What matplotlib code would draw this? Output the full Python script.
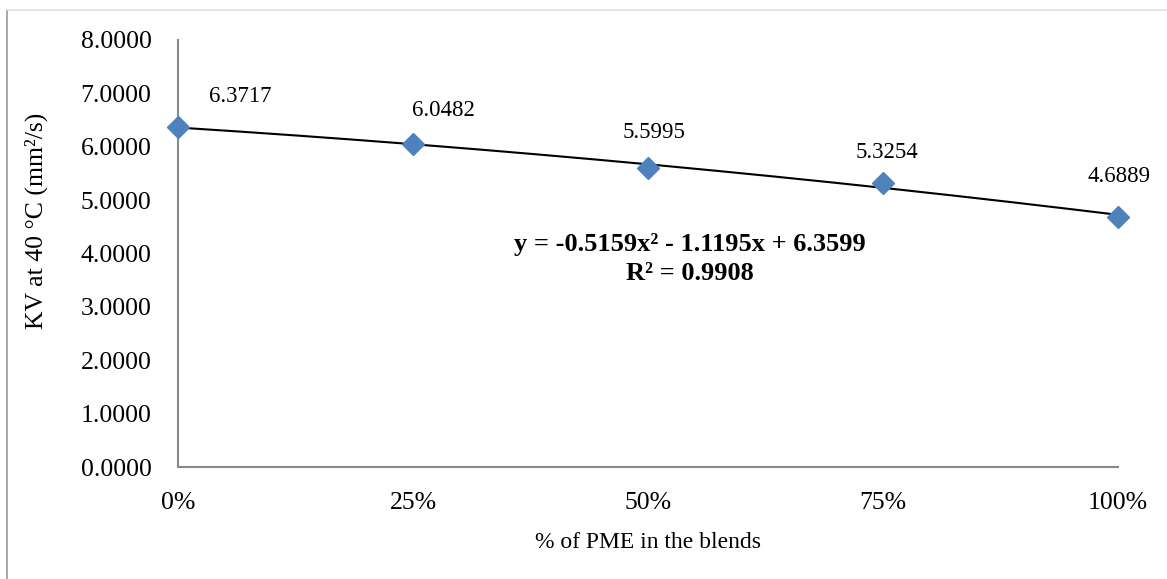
import matplotlib.pyplot as plt
import numpy as np
from matplotlib.lines import Line2D

plt.rcParams['font.family'] = ['Liberation Serif', 'DejaVu Serif']

# Anteil PME in der Mischung und gemessene kinematische Viskosität
blend_share = [0.0, 0.25, 0.5, 0.75, 1.0]
blend_labels = ['0%', '25%', '50%', '75%', '100%']
kv_40 = [6.3717, 6.0482, 5.5995, 5.3254, 4.6889]

# Polynom 2. Grades (Trendlinie)
trend_coef = [-0.5159, -1.1195, 6.3599]
r_squared = 0.9908

# Verschiebung der Wertebeschriftungen (in Punkt)
label_offsets = [(45, 22), (22, 24), (4, 26), (3, 22), (1, 29)]

W, H = 1167, 579
fig = plt.figure(figsize=(W / 100, H / 100), dpi=100)
ax = fig.add_axes([178 / W, (H - 467) / H, 940 / W, 427 / H])

xs = np.linspace(0, 1, 300)
ax.plot(xs, np.polyval(trend_coef, xs), color='black', lw=1.5, zorder=2)
ax.plot(blend_share, kv_40, linestyle='none', marker='D', markersize=11,
        color='#4f81bd', zorder=3, clip_on=False)

for x, y, off in zip(blend_share, kv_40, label_offsets):
    ax.annotate(f'{y:.4f}', (x, y), xytext=off, textcoords='offset points',
                ha='center', va='center', fontsize=16.5)

ax.text(0.545, 4.17, 'y = -0.5159x² - 1.1195x + 6.3599', ha='center', va='center',
        fontsize=19, fontweight='bold')
ax.text(0.545, 3.62, f'R² = {r_squared:.4f}', ha='center', va='center',
        fontsize=19, fontweight='bold')

ax.set_xlim(0, 1)
ax.set_ylim(0, 8)
ax.set_xticks(blend_share)
ax.set_xticklabels(blend_labels)
ax.set_yticks(np.arange(0, 9, 1))
ax.set_yticklabels([f'{v:.4f}' for v in np.arange(0, 9, 1)])
ax.tick_params(axis='both', length=0, labelsize=18.5)
ax.tick_params(axis='y', pad=19)
ax.tick_params(axis='x', pad=18)

for side in ['top', 'right']:
    ax.spines[side].set_visible(False)
for side in ['left', 'bottom']:
    ax.spines[side].set_color('#898989')
    ax.spines[side].set_linewidth(1.5)

ax.set_xlabel('% of PME in the blends', fontsize=17, labelpad=13)
ax.set_ylabel('KV at 40 °C (mm²/s)', fontsize=18.5, labelpad=22)
ax.yaxis.set_label_coords(-(178 - 48) / 940, (467 - 221) / 427)

# Rahmen des Diagrammbereichs
fig.add_artist(Line2D([7 / W, 7 / W], [0, 1 - 10 / H], color='#9a9a9a', lw=1.2))
fig.add_artist(Line2D([7 / W, 1], [1 - 10 / H, 1 - 10 / H], color='#e2e2e2', lw=1.2))

fig.savefig('out.png', dpi=100)
